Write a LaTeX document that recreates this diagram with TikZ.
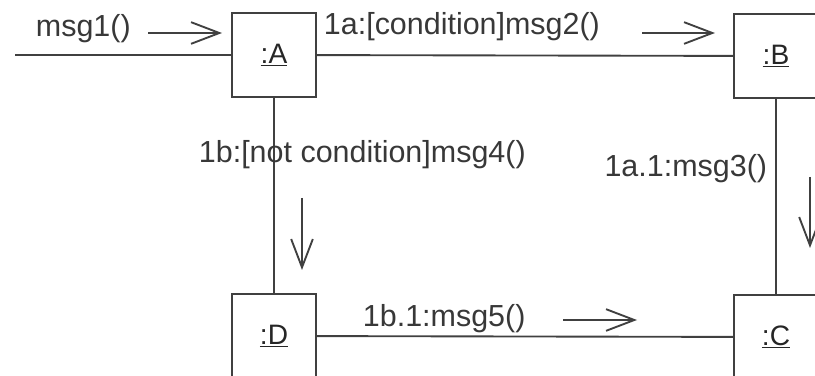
\documentclass[tikz,border=0pt]{standalone}
\usepackage{fontspec}
\setmainfont{Liberation Sans}
\usetikzlibrary{arrows.meta,positioning}

\begin{document}
\begin{tikzpicture}[x=0.03cm,y=-0.03cm,font=\fontsize{26}{30}\selectfont,
    line width=1.6pt,>={Straight Barb[length=8.5mm,width=6.5mm]},
    obj/.style={draw=black!75,fill=white,minimum size=2.52cm,inner sep=0pt,
      font=\fontsize{24}{28}\selectfont,text=black!85},
    msglabel/.style={anchor=base west,inner sep=0pt,text=black!78},
    link/.style={draw=black!75},
    msgarrow/.style={->,draw=black!75}]
  \useasboundingbox (0,0) rectangle (815,376);
  % objects
  \node[obj] (A) at (274,55) {\underline{:A}};
  \node[obj] (B) at (776,56) {\underline{:B}};
  \node[obj] (D) at (274,336) {\underline{:D}};
  \node[obj] (C) at (776,337) {\underline{:C}};
  \coordinate (start) at (15,55);
  % links
  \draw[link] (start) -- (A.west);
  \draw[link] (A) -- (B);
  \draw[link] (A) -- (D);
  \draw[link] (B) -- (C);
  \draw[link] (D) -- (C);
  % messages
  \node[msglabel] (m1) at (35,37) {msg1()};
  \draw[msgarrow] (148,33) -- (222,33);
  \node[msglabel] (m2) at (323,35) {1a:[condition]msg2()};
  \draw[msgarrow] (642,33) -- (715,33);
  \node[msglabel,anchor=base east] (m3) at (768,177) {1a.1:msg3()};
  \draw[msgarrow] (810,177) -- (810,248);
  \node[msglabel] (m4) at (198,163) {1b:[not condition]msg4()};
  \draw[msgarrow] (302,198) -- (302,270);
  \node[msglabel] (m5) at (362,327) {1b.1:msg5()};
  \draw[msgarrow] (563,320) -- (637,320);
\end{tikzpicture}
\end{document}
